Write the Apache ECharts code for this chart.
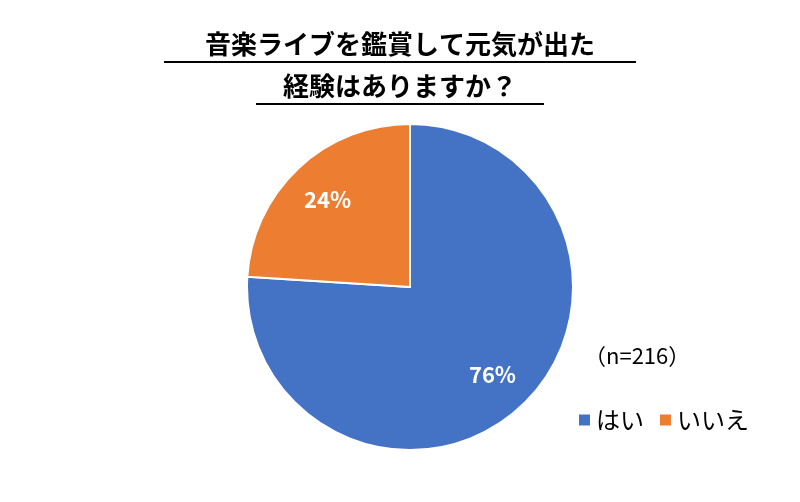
<!DOCTYPE html>
<html><head><meta charset="utf-8">
<script src="https://cdn.jsdelivr.net/npm/echarts@6/dist/echarts.min.js"></script>
<style>html,body{margin:0;padding:0;background:#fff}#c{width:800px;height:502px}</style>
</head><body><div id="c"></div>
<script>
const categories = ['はい', 'いいえ'];
const values = [76, 24];
const colors = ['#4472C4', '#ED7D31'];
const titleLines = ['音楽ライブを鑑賞して元気が出た', '経験はありますか？'];
const note = '（n=216）';

const data = categories.map((c, i) => ({name: c, value: values[i], itemStyle: {color: colors[i]}}));
const font = '"Noto Sans CJK JP", sans-serif';
const chart = echarts.init(document.getElementById('c'));
chart.setOption({
  backgroundColor: '#fff',
  animation: false,
  title: [
    {text: titleLines[0], left: 'center', top: 26, textStyle: {fontFamily: font, fontSize: 26, fontWeight: 'bold', color: '#000'}},
    {text: titleLines[1], left: 'center', top: 68, textStyle: {fontFamily: font, fontSize: 26, fontWeight: 'bold', color: '#000'}}
  ],
  graphic: [
    {type: 'line', shape: {x1: 164, y1: 62, x2: 636, y2: 62}, style: {stroke: '#000', lineWidth: 2}},
    {type: 'line', shape: {x1: 256, y1: 104, x2: 544, y2: 104}, style: {stroke: '#000', lineWidth: 2}},
    {type: 'text', left: 584, top: 345, style: {text: note, font: '22px ' + font, fill: '#000'}}
  ],
  legend: {
    data: categories, left: 572, top: 403, itemWidth: 13, itemHeight: 13, itemGap: 14,
    icon: 'rect', textStyle: {fontFamily: font, fontSize: 24, color: '#000'}
  },
  series: [
    {type: 'pie', radius: [0, 163], center: [410, 287], startAngle: 90, clockwise: true,
     data: data, label: {show: false}, labelLine: {show: false},
     itemStyle: {borderColor: '#fff', borderWidth: 2}},
    {type: 'pie', radius: [72, 163], center: [410, 287], startAngle: 90, clockwise: true, silent: true,
     data: data.map(d => ({name: d.name, value: d.value, itemStyle: {color: 'rgba(0,0,0,0)'}})),
     label: {show: true, position: 'inside', formatter: '{c}%', color: '#fff', fontSize: 22, fontWeight: 'bold', fontFamily: font},
     labelLine: {show: false}}
  ]
});
</script></body></html>
